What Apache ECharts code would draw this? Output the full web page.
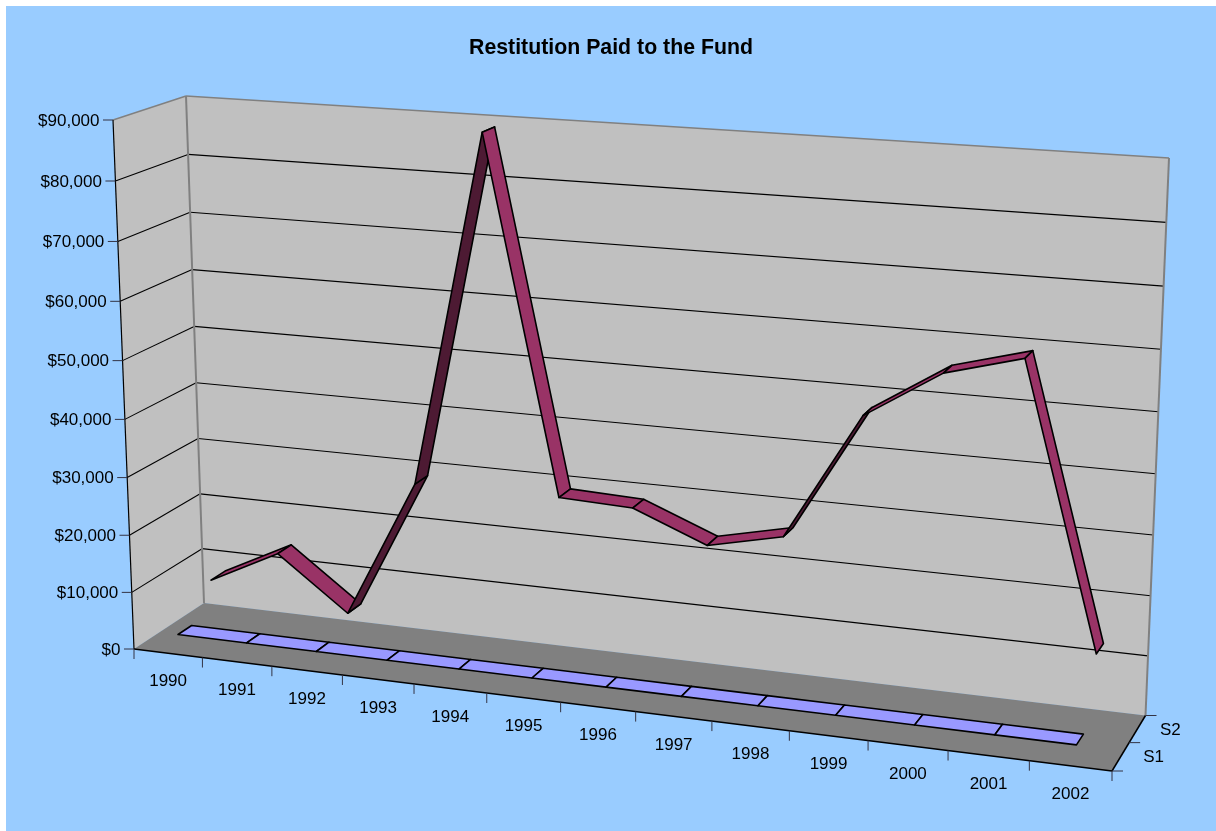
<!DOCTYPE html>
<html><head><meta charset="utf-8">
<style>html,body{margin:0;padding:0;background:#fff}#c{width:1216px;height:831px}</style>
<script src="https://cdn.jsdelivr.net/npm/echarts@6/dist/echarts.min.js"></script>
</head><body><div id="c"></div>
<script>
const chartTitle = 'Restitution Paid to the Fund';
const years = ['1990','1991','1992','1993','1994','1995','1996','1997','1998','1999','2000','2001','2002'];
const s2Values = [5800,12000,2700,27050,87800,27300,26800,21750,24600,46100,54200,57700,10700];
const s1Values = [0,0,0,0,0,0,0,0,0,0,0,0,0];
const valueTicks = [0,10000,20000,30000,40000,50000,60000,70000,80000,90000];
const valueLabels = ['$0','$10,000','$20,000','$30,000','$40,000','$50,000','$60,000','$70,000','$80,000','$90,000'];
const seriesNames = ['S1','S2'];

// --- 3D frame: screen position of the box corners (perspective camera)
const FBL=[134,649],FBR=[1112,771],BBL=[204,603],BBR=[1145.5,715.5],FTL=[113,120],BTL=[186,96],BTR=[1169,158];
const depthBand = {S1:[0.355,0.55], S2:[0.85,1.06]};
const FONT = '17px "Liberation Sans", Arial, sans-serif';
const xMin=-0.2723, xMax=12.578;
const U_WARP=-0.012;

const H=(function(){
  const [x0,y0]=FBL,[x1,y1]=FBR,[x2,y2]=BBR,[x3,y3]=BBL;
  const dx1=x1-x2,dx2=x3-x2,sx=x0-x1+x2-x3,dy1=y1-y2,dy2=y3-y2,sy=y0-y1+y2-y3;
  const den=dx1*dy2-dx2*dy1;
  const g=(sx*dy2-dx2*sy)/den,h=(dx1*sy-sx*dy1)/den;
  const a=x1-x0+g*x1,b=x3-x0+h*x3,c=x0,d=y1-y0+g*y1,e=y3-y0+h*y3,f=y0;
  const rows=[],rhs=[];
  [[0,0,FTL],[0,1,BTL],[1,1,BTR]].forEach(([u,w,P])=>{
    const den2=g*u+h*w+1;
    rows.push([1,0,-P[0]]);rhs.push(P[0]*den2-(a*u+b*w+c));
    rows.push([0,1,-P[1]]);rhs.push(P[1]*den2-(d*u+e*w+f));
  });
  const N=[[0,0,0,0],[0,0,0,0],[0,0,0,0]];
  rows.forEach((r,k)=>{for(let i=0;i<3;i++){for(let j=0;j<3;j++)N[i][j]+=r[i]*r[j];N[i][3]+=r[i]*rhs[k];}});
  for(let i=0;i<3;i++){
    let p=i;for(let k=i+1;k<3;k++)if(Math.abs(N[k][i])>Math.abs(N[p][i]))p=k;
    [N[i],N[p]]=[N[p],N[i]];
    for(let k=0;k<3;k++)if(k!==i){const m=N[k][i]/N[i][i];for(let j=i;j<4;j++)N[k][j]-=m*N[i][j];}
  }
  return {a,b,c,d,e,f,g,h,bx:N[0][3]/N[0][0],by:N[1][3]/N[1][1],q:N[2][3]/N[2][2]};
})();
function rawProj(u,v,w){
  const D=H.g*u+H.h*w+H.q*v+1;
  return [(H.a*u+H.b*w+H.bx*v+H.c)/D,(H.d*u+H.e*w+H.by*v+H.f)/D];
}
const sub=(A,B)=>[A[0]-B[0],A[1]-B[1]];
const eF=sub(FTL,rawProj(0,1,0)),eB=sub(BTL,rawProj(0,1,1)),eR=sub(BTR,rawProj(1,1,1));
function proj(u,v,w){
  const uu=u+U_WARP*u*(1-u);
  const p=rawProj(uu,v,w);
  return [0,1].map(i=>p[i]+v*(eF[i]+w*(eB[i]-eF[i])+uu*(eR[i]-eB[i])));
}
function boxer(api,params){
  const r=params.coordSys;
  return (x,val,w)=>{
    const p=api.coord([x,val]);
    return proj((p[0]-r.x)/r.width,(r.y+r.height-p[1])/r.height,w);
  };
}
const poly=(pts,fill,stroke,lw)=>({type:'polygon',shape:{points:pts},style:{fill:fill,stroke:stroke||null,lineWidth:lw||0,lineJoin:'round'}});
const line=(a,b,stroke,lw)=>({type:'line',shape:{x1:a[0],y1:a[1],x2:b[0],y2:b[1]},style:{stroke:stroke,lineWidth:lw||1}});
const text=(s,p,al)=>({type:'text',style:{text:s,x:p[0],y:p[1],font:FONT,fill:'#000',textAlign:al||'center',textVerticalAlign:'middle'}});

function renderFrame(params,api){
  const P=boxer(api,params);
  const ch=[];
  const xs=k=>xMin+k/years.length*(xMax-xMin);
  const top=valueTicks[valueTicks.length-1];
  const L=xs(0),R=xs(years.length);
  ch.push(poly([P(L,0,1),P(R,0,1),P(R,top,1),P(L,top,1)],'#C0C0C0'));
  ch.push(poly([P(L,0,0),P(L,0,1),P(L,top,1),P(L,top,0)],'#C0C0C0'));
  valueTicks.forEach((t,i)=>{
    if(i===0||i===valueTicks.length-1)return;
    ch.push(line(P(L,t,0),P(L,t,1),'#000',1.1));
    ch.push(line(P(L,t,1),P(R,t,1),'#000',1.1));
  });
  ch.push(line(P(L,top,0),P(L,top,1),'#808080',1.6));
  ch.push(line(P(L,top,1),P(R,top,1),'#808080',1.6));
  ch.push(line(P(L,0,1),P(L,top,1),'#808080',2));
  ch.push(line(P(R,0,1),P(R,top,1),'#808080',2));
  ch.push(poly([P(L,0,0),P(R,0,0),P(R,0,1),P(L,0,1)],'#808080'));
  ch.push(line(P(L,0,0),P(R,0,0),'#000',1.5));
  ch.push(line(P(R,0,0),P(R,0,1),'#000',1.5));
  ch.push(line(P(L,0,0),P(L,top,0),'#000',1.2));
  valueTicks.forEach((t,i)=>{
    const p=P(L,t,0);
    ch.push(line([p[0]-10,p[1]],p,'#334',1));
    ch.push(text(valueLabels[i],[p[0]-13.5,p[1]+1],'right'));
  });
  for(let k=0;k<=years.length;k++){
    const p=P(xs(k),0,0);
    ch.push(line(p,[p[0],p[1]+10],'#334',1));
  }
  years.forEach((y,k)=>{
    const p=P(xs(k+0.5),0,0);
    ch.push(text(y,[p[0],p[1]+28.5]));
  });
  [0,0.5,1].forEach(w=>{
    const p=P(R,0,w);
    ch.push(line(p,[p[0]+11,p[1]],'#334',1));
  });
  seriesNames.forEach((s,k)=>{
    const p=P(R,0,(k+0.5)/seriesNames.length);
    ch.push(text(s,[p[0]+33,p[1]+1]));
  });
  return {type:'group',children:ch};
}
function ribbon(band,fill,dark){
  return function(params,api){
    const P=boxer(api,params);
    const x0=api.value(0),v0=api.value(1),x1=api.value(2),v1=api.value(3);
    const a=P(x0,v0,band[0]),b=P(x1,v1,band[0]),c=P(x1,v1,band[1]),d=P(x0,v0,band[1]);
    const area=(b[0]-a[0])*(d[1]-a[1])-(b[1]-a[1])*(d[0]-a[0]);
    return poly([a,b,c,d],area<0?fill:dark,'#000',1.6);
  };
}
const segments=vals=>vals.slice(0,-1).map((v,i)=>[i,v,i+1,vals[i+1]]);

const chart=echarts.init(document.getElementById('c'),null,{renderer:'canvas',width:1216,height:831});
chart.setOption({
  animation:false,
  backgroundColor:'#fff',
  title:{text:chartTitle,left:606,top:33,textAlign:'center',
    textStyle:{fontFamily:'"Liberation Sans", Arial, sans-serif',fontWeight:'bold',fontSize:21.3,color:'#000'}},
  graphic:[{type:'rect',z:-10,silent:true,shape:{x:6,y:6,width:1210,height:825},style:{fill:'#99CCFF'}}],
  grid:{left:100,top:100,width:1000,height:600},
  xAxis:{type:'value',min:xMin,max:xMax,show:false},
  yAxis:{type:'value',min:0,max:90000,show:false},
  series:[
    {type:'custom',name:'frame',silent:true,clip:false,data:[[0,0]],renderItem:renderFrame,z:1},
    {type:'custom',name:seriesNames[0],silent:true,clip:false,encode:{x:[0,2],y:[1,3]},data:segments(s1Values),renderItem:ribbon(depthBand.S1,'#9999FF','#4D4D80'),z:2},
    {type:'custom',name:seriesNames[1],silent:true,clip:false,encode:{x:[0,2],y:[1,3]},data:segments(s2Values),renderItem:ribbon(depthBand.S2,'#993366','#4D1A33'),z:3}
  ]
});
</script></body></html>
